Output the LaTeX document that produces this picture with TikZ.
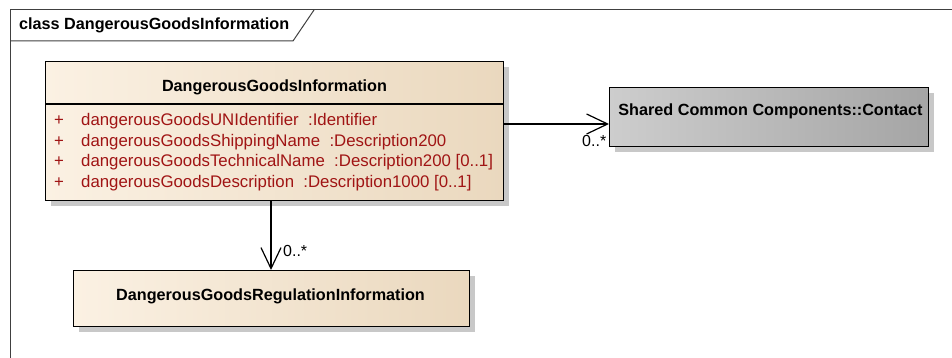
\documentclass[tikz,border=0pt]{standalone}
\usepackage{fontspec}
\setmainfont{Liberation Sans}
\usetikzlibrary{arrows.meta,shadows}
\definecolor{creamlight}{RGB}{251, 241, 227}
\definecolor{creamdark}{RGB}{234, 216, 190}
\definecolor{graylight}{RGB}{205, 205, 205}
\definecolor{graydark}{RGB}{165, 165, 165}
\definecolor{shadowgray}{RGB}{200, 200, 200}
\definecolor{framegray}{RGB}{64, 64, 64}
\definecolor{attrred}{RGB}{160, 20, 20}

\begin{document}
\begin{tikzpicture}[x=1pt, y=-1pt,
    classbox/.style={draw=black, line width=1.2pt, rectangle, inner sep=0pt,
        general shadow={fill=shadowgray, shadow xshift=5pt, shadow yshift=-5pt}},
    title/.style={font=\fontsize{16.2}{19}\selectfont\bfseries, inner sep=0pt},
    attr/.style={font=\fontsize{16.8}{20}\selectfont, text=attrred, anchor=base west, inner sep=0pt},
    mult/.style={font=\fontsize{16}{19}\selectfont, anchor=base west, inner sep=0pt},
    assoc/.style={line width=1.2pt, -{Straight Barb[length=21pt, width=20pt]}}]
    % Tamanho da figura
    \useasboundingbox (0,0) rectangle (952,358);
    
    % Moldura do diagrama
    \draw[framegray, line width=1pt] (10,358) -- (10,10) -- (952,10);
    \draw[framegray, line width=1pt] (10,41) -- (293,41) -- (314,10);
    \node[title, anchor=base west] (frametitle) at (19,30) {class DangerousGoodsInformation};
    
    % Classe principal
    \node[classbox, left color=creamlight, right color=creamdark, anchor=north west,
        minimum width=458pt, minimum height=139pt] (dgi) at (45,61) {};
    \draw[line width=1.2pt] (45,104) -- (503,104);
    \node[title, anchor=base] (dginame) at (274.5,92) {DangerousGoodsInformation};
    
    % Atributos
    \node[attr] (p1) at (54,126) {+};
    \node[attr] (a1) at (81,126) {dangerousGoodsUNIdentifier\ \ :Identifier};
    \node[attr] (p2) at (54,146.5) {+};
    \node[attr] (a2) at (81,146.5) {dangerousGoodsShippingName\ \ :Description200};
    \node[attr] (p3) at (54,167) {+};
    \node[attr] (a3) at (81,167) {dangerousGoodsTechnicalName\ \ :Description200 [0..1]};
    \node[attr] (p4) at (54,187.5) {+};
    \node[attr] (a4) at (81,187.5) {dangerousGoodsDescription\ \ :Description1000 [0..1]};
    
    % Classe externa (cinza)
    \node[classbox, left color=graylight, right color=graydark, anchor=north west,
        minimum width=319pt, minimum height=59pt] (contact) at (609,87) {};
    \node[title, anchor=base] (contactname) at (770.5,116) {Shared Common Components::Contact};
    
    % Classe de regulamento
    \node[classbox, left color=creamlight, right color=creamdark, anchor=north west,
        minimum width=396pt, minimum height=56pt] (dgri) at (73,270) {};
    \node[title, anchor=base] (dgriname) at (270.5,300) {DangerousGoodsRegulationInformation};
    
    % Associacoes
    \coordinate (c1) at (503,124);
    \coordinate (c2) at (609,124);
    \draw[assoc] (c1) -- (c2);
    \node[mult] (m1) at (582,147) {0..*};
    \coordinate (c3) at (271,200);
    \coordinate (c4) at (271,270);
    \draw[assoc] (c3) -- (c4);
    \node[mult] (m2) at (283,256) {0..*};
\end{tikzpicture}
\end{document}
